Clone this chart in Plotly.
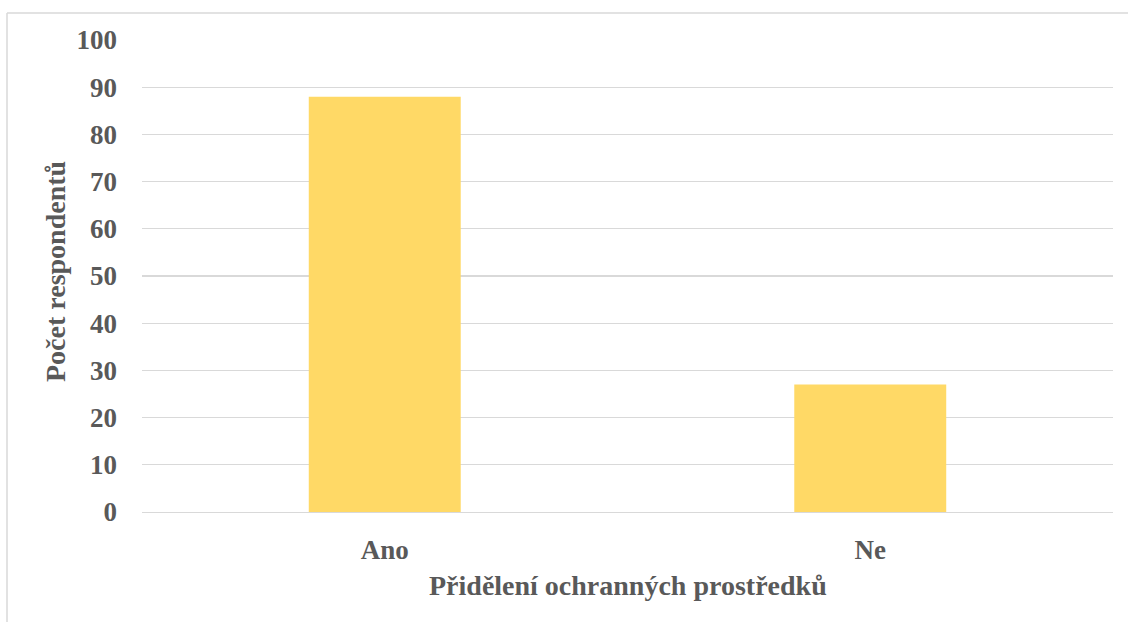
import plotly.graph_objects as go

categories = ["Ano", "Ne"]
values = [88, 27]
y_ticks = [0, 10, 20, 30, 40, 50, 60, 70, 80, 90, 100]

W, H = 1128, 622
L, R, T, B = 142, 15, 40, 110
pw, ph = W - L - R, H - T - B

def px(x):
    return (x - L) / pw

def py(y):
    return (H - B - y) / ph

tick_font = dict(family="Liberation Serif", size=27, color="#595959", weight="bold")
title_font = dict(family="Liberation Serif", size=28, color="#595959", weight="bold")

fig = go.Figure(go.Bar(x=categories, y=values, marker=dict(color="#FFD966", line=dict(width=0)),
                       width=0.313))

fig.update_layout(
    width=W, height=H,
    margin=dict(l=L, r=R, t=T, b=B),
    paper_bgcolor="white", plot_bgcolor="white",
    showlegend=False,
    font=tick_font,
    bargap=0.687,
)
fig.update_yaxes(range=[0, 100], tickvals=y_ticks, showgrid=True, gridcolor="#D9D9D9", gridwidth=1.3,
                 zeroline=False, showline=False, ticks="", ticklabelstandoff=24,
                 tickfont=tick_font)
fig.update_xaxes(showgrid=False, showline=True, linecolor="#D9D9D9", linewidth=1.3,
                 ticks="", ticklabelstandoff=13, tickfont=tick_font)

fig.add_annotation(text="Počet respondentů", xref="paper", yref="paper",
                   x=px(55), y=py(272), textangle=-90, showarrow=False,
                   font=title_font, xanchor="center", yanchor="middle")
fig.add_annotation(text="Přidělení ochranných prostředků", xref="paper", yref="paper",
                   x=px(628), y=py(585), showarrow=False,
                   font=title_font, xanchor="center", yanchor="middle")

# chart area border (left and top visible)
fig.add_shape(type="line", xref="paper", yref="paper", x0=px(7), x1=px(7), y0=py(13), y1=py(640),
              line=dict(color="#D9D9D9", width=1.5))
fig.add_shape(type="line", xref="paper", yref="paper", x0=px(7), x1=px(1140), y0=py(13), y1=py(13),
              line=dict(color="#D9D9D9", width=1.5))

fig.write_html("out.html",
               config={"displayModeBar": False, "staticPlot": True},
               post_script="document.body.style.margin='0';document.body.style.overflow='hidden';")
